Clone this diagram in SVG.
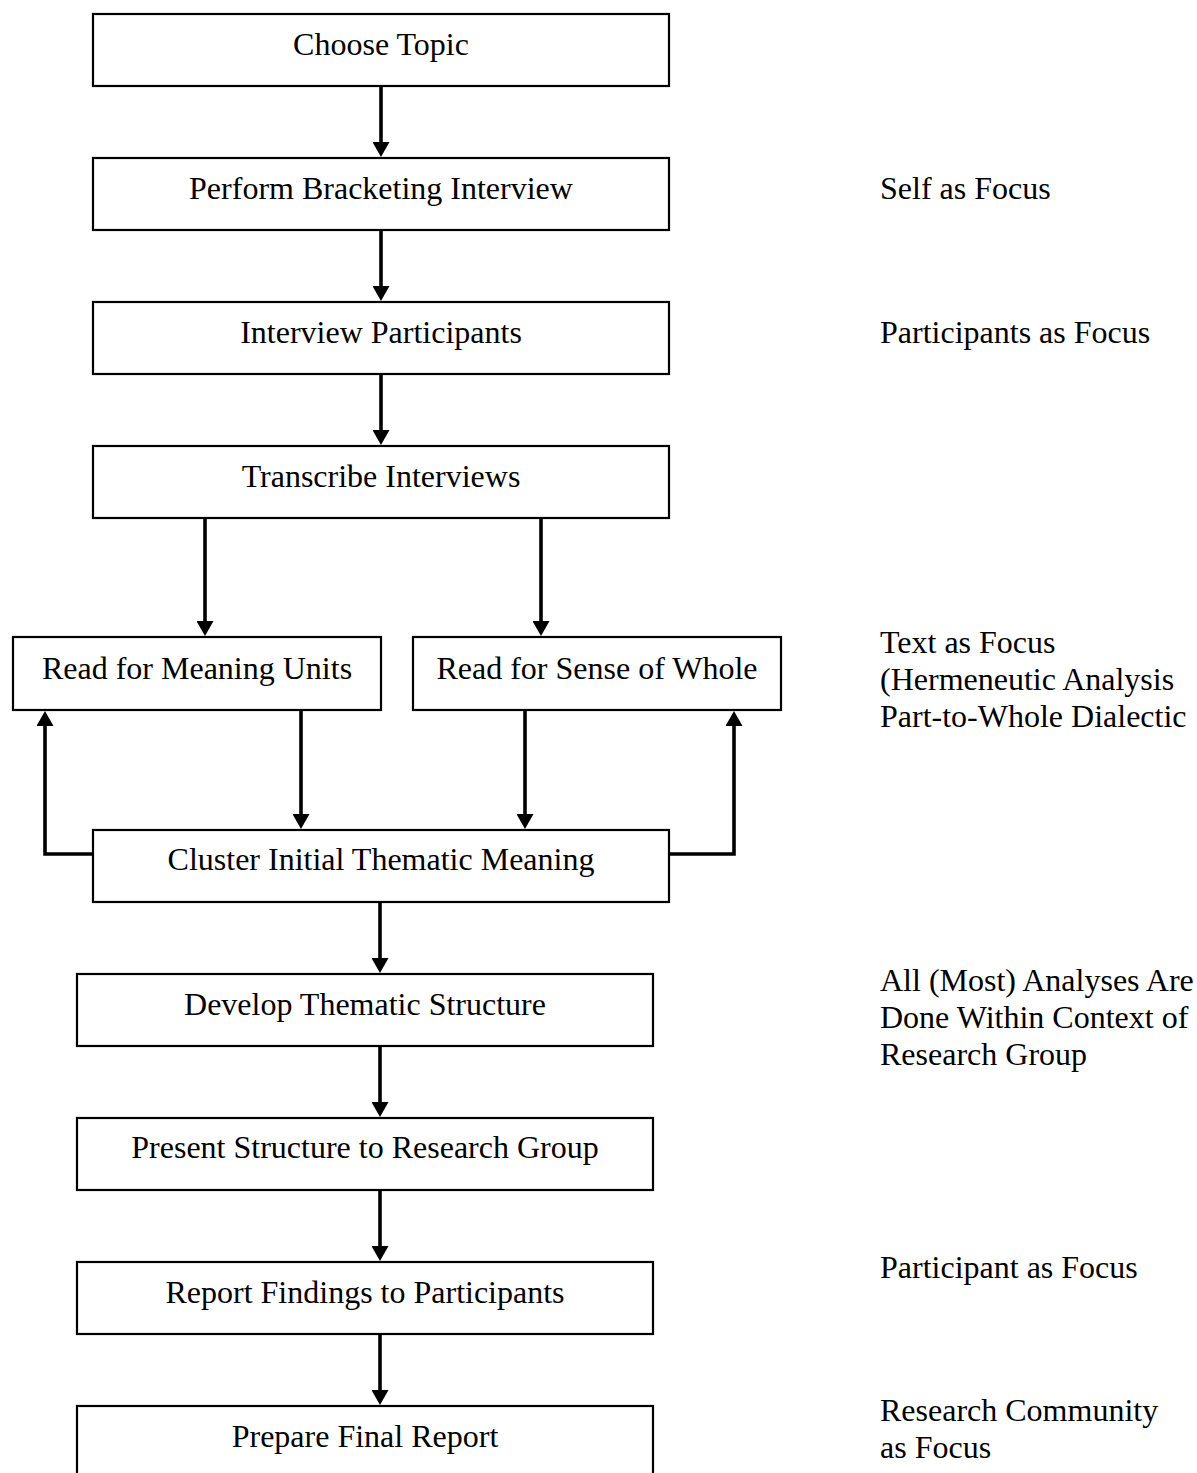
<svg xmlns="http://www.w3.org/2000/svg" width="1197" height="1473" viewBox="0 0 1197 1473">
<style>
.box{fill:#fff;stroke:#000;stroke-width:2.2}
.t{font-family:"Liberation Serif","Times New Roman",serif;font-size:32px;fill:#000}
.c{text-anchor:middle}
.ln{fill:none;stroke:#000;stroke-width:3.6}
</style>
<defs>
<marker id="ah" viewBox="0 0 15 17" markerWidth="15" markerHeight="17" markerUnits="userSpaceOnUse" refX="2" refY="8.5" orient="auto">
<path d="M0,0 L15,8.5 L0,17 z" fill="#000"/>
</marker>
</defs>
<rect width="1197" height="1473" fill="#fff"/>
<g id="connectors">
<path class="ln" d="M381,86 V144" marker-end="url(#ah)"/>
<path class="ln" d="M381,230 V288" marker-end="url(#ah)"/>
<path class="ln" d="M381,374 V432" marker-end="url(#ah)"/>
<path class="ln" d="M205,518 V623" marker-end="url(#ah)"/>
<path class="ln" d="M541,518 V623" marker-end="url(#ah)"/>
<path class="ln" d="M301,710 V816" marker-end="url(#ah)"/>
<path class="ln" d="M525,710 V816" marker-end="url(#ah)"/>
<path class="ln" d="M93,854 H45 V724" marker-end="url(#ah)"/>
<path class="ln" d="M669,854 H734 V724" marker-end="url(#ah)"/>
<path class="ln" d="M380,902 V960" marker-end="url(#ah)"/>
<path class="ln" d="M380,1046 V1104" marker-end="url(#ah)"/>
<path class="ln" d="M380,1190 V1248" marker-end="url(#ah)"/>
<path class="ln" d="M380,1334 V1392" marker-end="url(#ah)"/>
</g>
<g id="choose-topic"><rect class="box" x="93" y="14" width="576" height="72"/><text class="t c" x="381" y="55">Choose Topic</text></g>
<g id="bracketing"><rect class="box" x="93" y="158" width="576" height="72"/><text class="t c" x="381" y="199">Perform Bracketing Interview</text></g>
<g id="interview"><rect class="box" x="93" y="302" width="576" height="72"/><text class="t c" x="381" y="343">Interview Participants</text></g>
<g id="transcribe"><rect class="box" x="93" y="446" width="576" height="72"/><text class="t c" x="381" y="487">Transcribe Interviews</text></g>
<g id="meaning-units"><rect class="box" x="13" y="637" width="368" height="73"/><text class="t c" x="197" y="679">Read for Meaning Units</text></g>
<g id="sense-whole"><rect class="box" x="413" y="637" width="368" height="73"/><text class="t c" x="597" y="679">Read for Sense of Whole</text></g>
<g id="cluster"><rect class="box" x="93" y="830" width="576" height="72"/><text class="t c" x="381" y="870">Cluster Initial Thematic Meaning</text></g>
<g id="develop"><rect class="box" x="77" y="974" width="576" height="72"/><text class="t c" x="365" y="1015">Develop Thematic Structure</text></g>
<g id="present"><rect class="box" x="77" y="1118" width="576" height="72"/><text class="t c" x="365" y="1158">Present Structure to Research Group</text></g>
<g id="report"><rect class="box" x="77" y="1262" width="576" height="72"/><text class="t c" x="365" y="1303">Report Findings to Participants</text></g>
<g id="prepare"><rect class="box" x="77" y="1406" width="576" height="80"/><text class="t c" x="365" y="1447">Prepare Final Report</text></g>
<g id="side-labels">
<text class="t" x="880" y="199">Self as Focus</text>
<text class="t" x="880" y="343">Participants as Focus</text>
<text class="t" x="880" y="653">Text as Focus</text>
<text class="t" x="880" y="690">(Hermeneutic Analysis</text>
<text class="t" x="880" y="727">Part-to-Whole Dialectic</text>
<text class="t" x="880" y="991">All (Most) Analyses Are</text>
<text class="t" x="880" y="1028">Done Within Context of</text>
<text class="t" x="880" y="1065">Research Group</text>
<text class="t" x="880" y="1278">Participant as Focus</text>
<text class="t" x="880" y="1421">Research Community</text>
<text class="t" x="880" y="1458">as Focus</text>
</g>
</svg>
